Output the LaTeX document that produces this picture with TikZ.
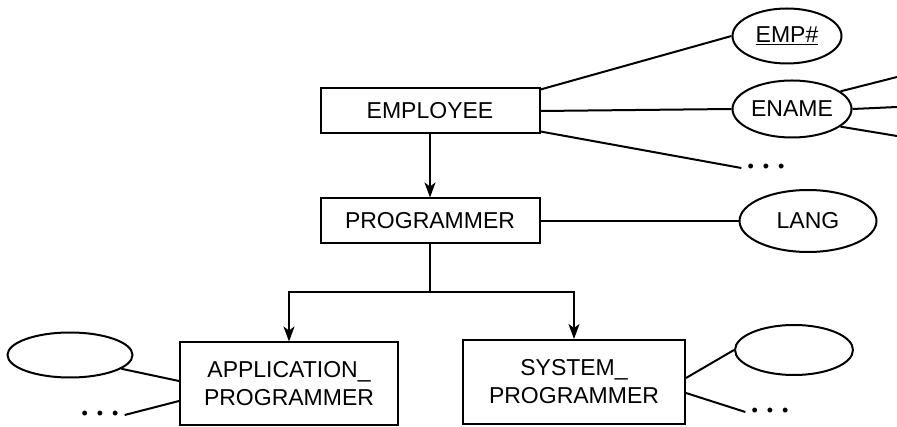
\documentclass[tikz,border=0pt]{standalone}
\usepackage{fontspec}
\setsansfont{Liberation Sans}
\usepackage{tikz}
\usetikzlibrary{arrows.meta,positioning,shapes.geometric}

\begin{document}
\begin{tikzpicture}[
  x=1pt, y=-1pt,
  every node/.style={font=\sffamily\fontsize{23}{28}\selectfont},
  box/.style={rectangle, draw, line width=2pt, minimum width=219pt,
    minimum height=45pt, align=center, inner sep=0pt},
  attr/.style={ellipse, draw, line width=2pt, inner sep=0pt},
  dots/.style={font=\sffamily\fontsize{18}{20}\selectfont, inner xsep=6pt, inner ysep=1pt,
    text height=9pt, text depth=0pt},
  link/.style={line width=2pt},
  >={Stealth[length=15pt, width=11pt, inset=4pt]},
]
  \useasboundingbox[fill=white] (0,0) rectangle (897,427);

  %% Row 1: EMPLOYEE and its attributes
  \node[box] (employee) at (430,111) {EMPLOYEE};
  \node[attr, minimum width=109pt, minimum height=55pt] (empno) at (787,36) {\underline{EMP\#}};
  \node[attr, minimum width=119pt, minimum height=57pt] (ename) at (792,109) {ENAME};
  \node[dots] (moreA) at (766,168) {\textbullet\hspace{9pt}\textbullet\hspace{9pt}\textbullet};
  \coordinate (enA) at (897,77);
  \coordinate (enB) at (897,107);
  \coordinate (enC) at (897,136);

  %% Row 2: PROGRAMMER
  \node[box] (prog) at (430,221) {PROGRAMMER};
  \node[attr, minimum width=137pt, minimum height=62pt] (lang) at (808,221) {LANG};

  %% Row 3: subclasses
  \node[box, minimum width=218pt, minimum height=83pt] (app) at (289,384)
    {APPLICATION\_\\PROGRAMMER};
  \node[box, minimum width=222pt, minimum height=84pt] (sys) at (574,382)
    {SYSTEM\_\\PROGRAMMER};
  \node[attr, minimum width=125pt, minimum height=45pt] (appattr) at (70,355) {};
  \node[dots] (moreB) at (100,415) {\textbullet\hspace{9pt}\textbullet\hspace{9pt}\textbullet};
  \node[attr, minimum width=118pt, minimum height=50pt] (sysattr) at (794,350) {};
  \node[dots] (moreC) at (770,412) {\textbullet\hspace{9pt}\textbullet\hspace{9pt}\textbullet};
  \coordinate (split) at (430,292);

  %% Attribute links
  \draw[link] ([yshift=-2pt]employee.north east) -- (empno.west);
  \draw[link] (employee.east) -- (ename.west);
  \draw[link] ([yshift=3pt]employee.south east) -- (moreA.west);
  \draw[link] (ename.20) -- (enA);
  \draw[link] (ename.east) -- (enB);
  \draw[link] (ename.-20) -- (enC);
  \draw[link] (prog.east) -- (lang.west);
  \draw[link] (appattr.-15) -- ([yshift=3pt]app.west);
  \draw[link] ([yshift=-17pt]app.west) -- (moreB.east);
  \draw[link] ([yshift=4pt]sys.east) -- (sysattr.west);
  \draw[link] ([yshift=-11pt]sys.east) -- (moreC.west);

  %% ISA arrows
  \draw[link, ->] (employee.south) -- (prog.north);
  \draw[link] (prog.south) -- (split);
  \draw[link, ->] (split) -| (app.north);
  \draw[link, ->] (split) -| (sys.north);
\end{tikzpicture}
\end{document}
